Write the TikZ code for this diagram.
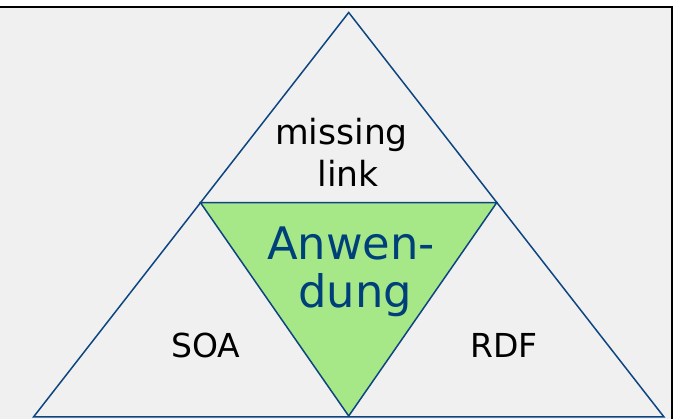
\documentclass[tikz,border=0pt]{standalone}
\usepackage{fontspec}
\setmainfont{DejaVu Sans}
\usetikzlibrary{positioning}
\definecolor{mbg}{rgb}{0.941, 0.941, 0.941}
\definecolor{mline}{rgb}{0.05, 0.27, 0.50}
\definecolor{mgreen}{rgb}{0.65, 0.91, 0.53}
\definecolor{mtext}{rgb}{0.0, 0.25, 0.48}
\tikzset{edge/.style = {mline, line width = 1.5pt, line join = miter}}
\tikzset{frame/.style = {black, line width = 2.6pt}}
\tikzset{corner/.style = {font = \fontsize{33}{40}\selectfont, anchor = base}}
\tikzset{middle/.style = {font = \fontsize{44.8}{48}\selectfont, anchor = base, mtext}}

\begin{document}
\begin{tikzpicture}[x = 1pt, y = -1pt]
      \useasboundingbox (0, 0) rectangle (678, 419);
      \fill [mbg] (0, 7) rectangle (672, 419);
      \draw [frame] (0, 7) -- (672, 7) -- (672, 419);

      \coordinate (top) at (348.7, 12.5);
      \coordinate (bl) at (33.5, 417);
      \coordinate (br) at (664, 417);
      \coordinate (ml) at (200.5, 202.7);
      \coordinate (mr) at (496.7, 202.7);
      \coordinate (mb) at (348.7, 416);

      \fill [mgreen] (ml) -- (mr) -- (mb) -- cycle;
      \draw [edge] (top) -- (bl) -- (br) -- cycle;
      \draw [edge] (ml) -- (mr) -- (mb) -- cycle;

      \node [corner, font = \fontsize{34.6}{42}\selectfont] (missing) at (341.5, 145) {missing};
      \node [corner, font = \fontsize{34.6}{42}\selectfont] (link) at (348, 187) {link};
      \node [corner] (soa) at (206, 358) {SOA};
      \node [corner] (rdf) at (504, 358) {RDF};
      \node [middle] (anwen) at (351, 260) {Anwen-};
      \node [middle] (dung) at (355, 308) {dung};
    \end{tikzpicture}
\end{document}
